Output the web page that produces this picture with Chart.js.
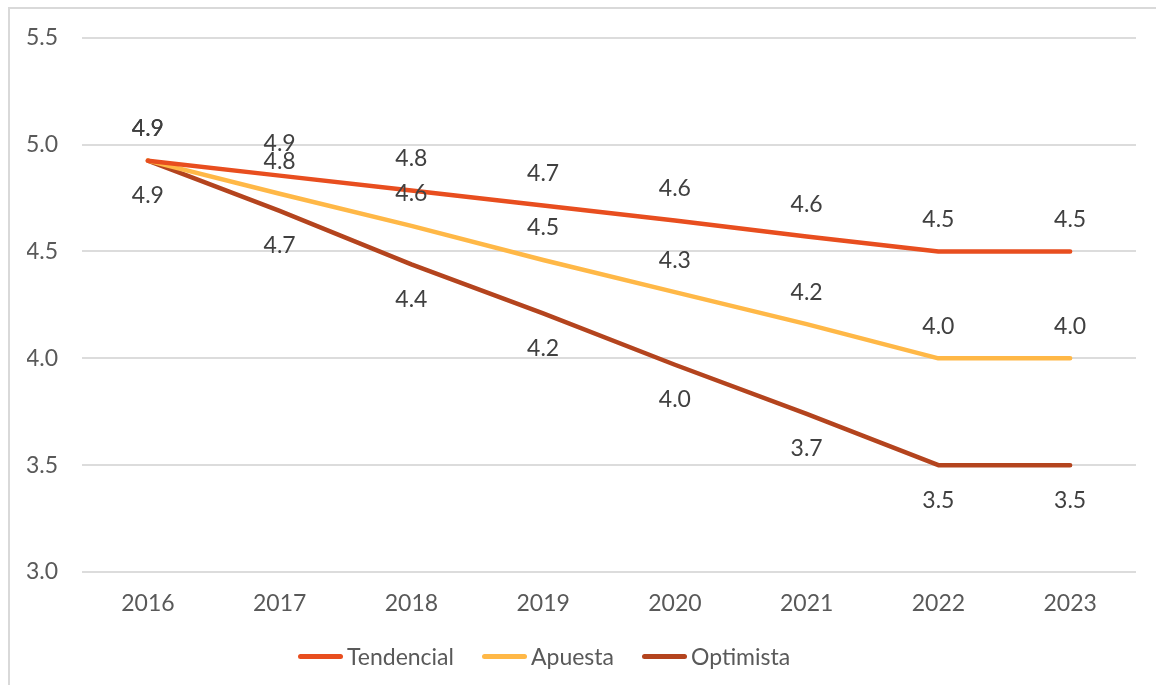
<!DOCTYPE html>
<html>
<head>
<meta charset="utf-8">
<script src="https://cdn.jsdelivr.net/npm/chart.js@4/dist/chart.umd.min.js"></script>
<style>
  html, body { margin: 0; padding: 0; background: #ffffff; }
  body { width: 1156px; height: 685px; position: relative; overflow: hidden; font-family: Lato, "Open Sans", sans-serif; }
  #frame { position: absolute; left: 8px; top: 7px; width: 1300px; height: 800px; border-left: 2px solid #d9d9d9; border-top: 2px solid #d9d9d9; }
  #wrap { position: absolute; left: 0; top: 0; width: 1156px; height: 685px; }
  #legend { position: absolute; left: 298px; top: 640px; display: flex; align-items: center; gap: 28px; font-family: Lato, sans-serif; font-size: 23px; color: #595959; }
  .item { display: flex; align-items: center; gap: 4px; height: 32px; }
  .swatch { width: 45px; height: 5px; border-radius: 3px; }
</style>
</head>
<body>
<div id="frame"></div>
<div id="wrap"><canvas id="c" width="1156" height="685"></canvas></div>
<div id="legend"></div>
<script>
// ---- data ----
const categories = ["2016", "2017", "2018", "2019", "2020", "2021", "2022", "2023"];
const seriesNames = ["Tendencial", "Apuesta", "Optimista"];
const tendencial = [4.925, 4.855, 4.785, 4.715, 4.645, 4.57, 4.5, 4.5];
const apuesta    = [4.925, 4.77, 4.62, 4.46, 4.31, 4.16, 4.0, 4.0];
const optimista  = [4.925, 4.69, 4.44, 4.21, 3.97, 3.74, 3.5, 3.5];
const yTicks = [3.0, 3.5, 4.0, 4.5, 5.0, 5.5];

const colors = ["#E84E1F", "#FFB847", "#B4441E"];
const labelPlacement = ["above", "above", "below"];

const dataLabelPlugin = {
  id: 'dataLabels',
  afterDatasetsDraw(chart) {
    const ctx = chart.ctx;
    ctx.save();
    ctx.font = '23px Lato';
    ctx.fillStyle = '#404040';
    ctx.textAlign = 'center';
    ctx.textBaseline = 'middle';
    chart.data.datasets.forEach((ds, i) => {
      const meta = chart.getDatasetMeta(i);
      meta.data.forEach((pt, j) => {
        const off = labelPlacement[i] === 'above' ? -32 : 35;
        ctx.fillText(ds.data[j].toFixed(1), pt.x, pt.y + off);
      });
    });
    ctx.restore();
  }
};

function build() {
  const datasets = [tendencial, apuesta, optimista].map((d, i) => ({
    label: seriesNames[i],
    data: d,
    borderColor: colors[i],
    backgroundColor: colors[i],
    borderWidth: 4.5,
    borderCapStyle: 'round',
    borderJoinStyle: 'round',
    pointRadius: 0,
    pointHoverRadius: 0,
    tension: 0,
    fill: false
  }));

  const chart = new Chart(document.getElementById('c'), {
    type: 'line',
    data: { labels: categories, datasets },
    options: {
      responsive: false,
      animation: false,
      events: [],
      layout: { padding: { left: 27, right: 20, top: 37, bottom: 67 } },
      plugins: { legend: { display: false }, tooltip: { enabled: false } },
      scales: {
        x: {
          offset: true,
          grid: { display: false, drawTicks: false },
          border: { display: false },
          ticks: { color: '#595959', font: { family: 'Lato', size: 23 }, padding: 18, maxRotation: 0 },
          afterFit(s) { s.height = 46; }
        },
        y: {
          min: 3.0, max: 5.5,
          afterBuildTicks(s) { s.ticks = yTicks.map(v => ({ value: v })); },
          grid: { color: '#dcdcdc', lineWidth: 2, drawTicks: false },
          border: { display: false },
          ticks: { color: '#595959', font: { family: 'Lato', size: 23 }, padding: 24, callback: v => Number(v).toFixed(1) },
          afterFit(s) { s.width = 55; }
        }
      }
    },
    plugins: [dataLabelPlugin]
  });

  const legend = document.getElementById('legend');
  chart.data.datasets.forEach(ds => {
    const item = document.createElement('div');
    item.className = 'item';
    const sw = document.createElement('span');
    sw.className = 'swatch';
    sw.style.background = ds.borderColor;
    const tx = document.createElement('span');
    tx.textContent = ds.label;
    item.appendChild(sw);
    item.appendChild(tx);
    legend.appendChild(item);
  });
}

if (document.fonts && document.fonts.load) {
  document.fonts.load('23px Lato').then(build, build);
} else {
  build();
}
</script>
</body>
</html>
